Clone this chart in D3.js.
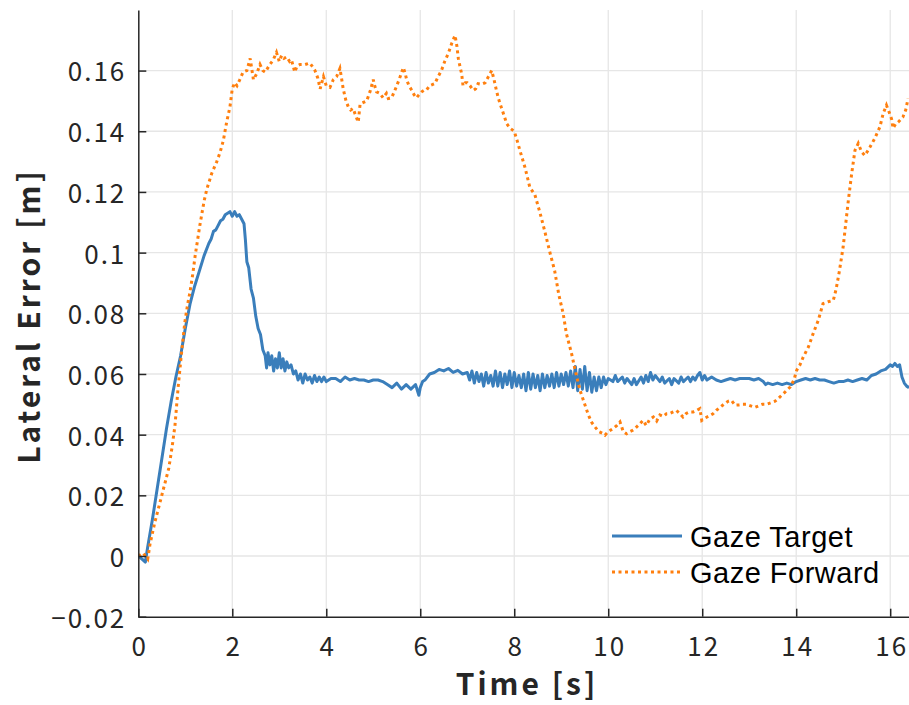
<!DOCTYPE html>
<html>
<head>
<meta charset="utf-8">
<script src="https://cdn.jsdelivr.net/npm/d3@7"></script>
<style>
  body { margin: 0; background: #fff; }
  svg text { font-family: "Noto Sans CJK JP", "Noto Sans", sans-serif; fill: #262626; }
</style>
</head>
<body>
<svg id="chart" width="909" height="705"></svg>
<script>
// Gaze Target (t [s], lateral error [m])
var gazeTarget = [
  [0,0],[0.08,-0.001],[0.15,-0.002],[0.2,0.003],[0.3,0.012],[0.4,0.022],[0.5,0.032],[0.6,0.042],[0.7,0.051],[0.8,0.059],
  [0.9,0.066],[1.0,0.075],[1.1,0.083],[1.2,0.089],[1.3,0.094],[1.4,0.099],[1.5,0.103],[1.55,0.1045],[1.6,0.107],[1.65,0.1075],[1.7,0.109],[1.75,0.1105],[1.8,0.111],
  [1.85,0.1125],[1.9,0.113],[1.95,0.1135],[2.0,0.112],[2.05,0.1135],[2.1,0.112],[2.15,0.1125],[2.2,0.111],[2.25,0.1095],[2.28,0.104],[2.31,0.097],
  [2.35,0.095],[2.4,0.088],[2.45,0.085],[2.5,0.079],[2.55,0.075],[2.6,0.073],[2.65,0.068],[2.7,0.066],[2.73,0.062],[2.76,0.067],
  [2.8,0.063],[2.84,0.066],[2.88,0.061],[2.92,0.065],[2.96,0.062],[3.0,0.067],[3.04,0.062],[3.08,0.065],[3.12,0.061],[3.16,0.064],
  [3.2,0.062],[3.25,0.063],[3.3,0.060],[3.35,0.061],[3.4,0.058],[3.45,0.060],[3.5,0.057],[3.55,0.060],[3.6,0.058],[3.65,0.059],
  [3.7,0.057],[3.75,0.0595],[3.8,0.0575],[3.85,0.059],[3.9,0.0575],[3.95,0.059],[4.0,0.0575],[4.1,0.0585],[4.2,0.0585],[4.3,0.0575],[4.4,0.059],[4.5,0.058],[4.6,0.0585],
  [4.7,0.058],[4.8,0.058],[4.9,0.0575],[5.0,0.058],[5.1,0.058],[5.2,0.0575],[5.3,0.0565],[5.4,0.0555],[5.5,0.057],[5.6,0.055],
  [5.7,0.0565],[5.8,0.055],[5.9,0.0565],[5.97,0.053],[6.0,0.0555],[6.05,0.0575],[6.1,0.058],[6.2,0.060],[6.3,0.0605],[6.4,0.0615],
  [6.5,0.061],[6.6,0.0618],[6.7,0.0605],[6.8,0.0612],[6.9,0.060],[7.0,0.0605],[7.05,0.058],[7.1,0.061],[7.15,0.057],[7.2,0.0605],
  [7.25,0.0575],[7.3,0.060],[7.35,0.056],[7.4,0.0605],[7.45,0.057],[7.5,0.0595],[7.55,0.056],[7.6,0.061],[7.65,0.056],[7.7,0.0605],
  [7.75,0.0555],[7.8,0.060],[7.85,0.0565],[7.9,0.061],[7.95,0.0555],[8.0,0.0605],[8.05,0.056],[8.1,0.0595],[8.15,0.0555],[8.2,0.060],
  [8.25,0.0545],[8.3,0.0605],[8.35,0.055],[8.4,0.060],[8.45,0.0555],[8.5,0.0595],[8.55,0.0545],[8.6,0.060],[8.65,0.0555],[8.7,0.0595],
  [8.75,0.056],[8.8,0.060],[8.85,0.0555],[8.9,0.0605],[8.95,0.056],[9.0,0.060],[9.05,0.0565],[9.1,0.0605],[9.15,0.056],[9.2,0.061],
  [9.25,0.0555],[9.3,0.0625],[9.35,0.0545],[9.4,0.0615],[9.45,0.055],[9.5,0.0625],[9.55,0.0545],[9.6,0.0605],[9.65,0.054],[9.7,0.059],
  [9.75,0.0545],[9.8,0.059],[9.85,0.0555],[9.9,0.059],[9.95,0.0565],[10.0,0.0585],[10.1,0.0575],[10.15,0.0595],[10.2,0.0575],[10.3,0.059],
  [10.35,0.057],[10.4,0.0585],[10.5,0.0565],[10.55,0.0585],[10.6,0.0565],[10.7,0.059],[10.75,0.057],[10.8,0.0595],[10.85,0.0575],[10.9,0.0605],
  [10.95,0.058],[11.0,0.0595],[11.1,0.0575],[11.15,0.059],[11.2,0.057],[11.3,0.0585],[11.35,0.0565],[11.4,0.0585],[11.5,0.057],[11.55,0.059],
  [11.6,0.0575],[11.7,0.059],[11.75,0.0575],[11.8,0.059],[11.85,0.058],[11.9,0.0595],[11.95,0.0605],[12.0,0.058],[12.05,0.0595],[12.1,0.058],
  [12.2,0.059],[12.3,0.058],[12.4,0.0575],[12.5,0.058],[12.6,0.0585],[12.7,0.058],[12.8,0.0585],[12.9,0.0585],[13.0,0.0585],[13.1,0.058],
  [13.2,0.0585],[13.3,0.0575],[13.35,0.0565],[13.4,0.057],[13.5,0.0565],[13.6,0.057],[13.7,0.0565],[13.8,0.057],[13.9,0.0565],[14.0,0.0575],
  [14.1,0.058],[14.2,0.0585],[14.3,0.058],[14.4,0.0585],[14.5,0.058],[14.6,0.058],[14.7,0.0575],[14.8,0.057],[14.9,0.0575],[15.0,0.0575],
  [15.1,0.058],[15.2,0.0575],[15.3,0.058],[15.4,0.0585],[15.5,0.058],[15.6,0.0595],[15.7,0.060],[15.8,0.061],[15.9,0.0615],[16.0,0.063],
  [16.05,0.0625],[16.1,0.0635],[16.15,0.0625],[16.2,0.063],[16.25,0.059],[16.3,0.057],[16.35,0.056],[16.4,0.0555]
];

// Gaze Forward (t [s], lateral error [m])
var gazeForward = [
  [0,0],[0.1,0.001],[0.2,-0.001],[0.25,0.004],[0.35,0.011],[0.45,0.017],[0.55,0.023],[0.65,0.029],[0.72,0.036],[0.78,0.043],
  [0.85,0.056],[0.92,0.067],[0.99,0.077],[1.05,0.083],[1.1,0.087],[1.16,0.093],[1.21,0.099],[1.31,0.109],[1.4,0.117],[1.46,0.121],
  [1.56,0.126],[1.67,0.130],[1.74,0.133],[1.81,0.137],[1.88,0.143],[1.95,0.148],[2.0,0.154],[2.05,0.156],[2.1,0.155],[2.16,0.157],
  [2.23,0.1595],[2.31,0.160],[2.38,0.164],[2.45,0.157],[2.52,0.159],[2.59,0.162],[2.65,0.160],[2.7,0.1595],[2.8,0.162],[2.87,0.1635],
  [2.94,0.166],[3.0,0.163],[3.05,0.165],[3.1,0.164],[3.16,0.1645],[3.22,0.163],[3.26,0.1635],[3.33,0.1595],[3.38,0.1615],[3.44,0.162],
  [3.55,0.162],[3.65,0.1625],[3.72,0.161],[3.76,0.160],[3.82,0.1575],[3.87,0.154],[3.94,0.158],[4.0,0.155],[4.08,0.1545],[4.15,0.157],
  [4.22,0.158],[4.29,0.1607],[4.33,0.157],[4.36,0.154],[4.42,0.150],[4.47,0.148],[4.52,0.147],[4.57,0.1475],[4.63,0.145],[4.68,0.143],
  [4.72,0.149],[4.79,0.1495],[4.86,0.150],[4.93,0.153],[5.0,0.157],[5.03,0.155],[5.07,0.153],[5.14,0.1525],[5.21,0.151],[5.28,0.1525],
  [5.32,0.1508],[5.39,0.151],[5.46,0.1535],[5.55,0.157],[5.64,0.161],[5.68,0.159],[5.71,0.157],[5.76,0.155],[5.82,0.1535],[5.87,0.152],
  [5.92,0.151],[5.97,0.152],[6.03,0.153],[6.08,0.1535],[6.13,0.1535],[6.2,0.155],[6.31,0.1557],[6.38,0.158],[6.45,0.160],[6.52,0.163],
  [6.6,0.1658],[6.67,0.169],[6.74,0.1716],[6.78,0.168],[6.81,0.164],[6.85,0.161],[6.88,0.159],[6.91,0.155],[6.96,0.156],[7.0,0.156],
  [7.06,0.155],[7.13,0.1535],[7.18,0.154],[7.23,0.1557],[7.3,0.1555],[7.38,0.156],[7.45,0.158],[7.52,0.160],[7.57,0.157],[7.62,0.1535],
  [7.66,0.151],[7.7,0.149],[7.77,0.1458],[7.84,0.1425],[7.91,0.141],[8.0,0.140],[8.06,0.137],[8.12,0.1337],[8.23,0.128],[8.33,0.1216],
  [8.44,0.119],[8.55,0.113],[8.65,0.107],[8.76,0.100],[8.86,0.094],[8.95,0.086],[9.04,0.080],[9.11,0.0733],[9.22,0.0667],[9.3,0.061],
  [9.4,0.0546],[9.5,0.050],[9.58,0.0464],[9.65,0.044],[9.72,0.0425],[9.8,0.041],[9.87,0.0405],[9.93,0.0398],[10.0,0.041],[10.1,0.042],
  [10.18,0.043],[10.25,0.0442],[10.32,0.041],[10.39,0.0403],[10.46,0.041],[10.53,0.0415],[10.6,0.0425],[10.67,0.0435],[10.74,0.0447],[10.81,0.043],
  [10.88,0.045],[10.96,0.0458],[11.03,0.0445],[11.1,0.0465],[11.17,0.046],[11.24,0.0469],[11.31,0.047],[11.38,0.0475],[11.45,0.048],[11.52,0.047],
  [11.59,0.0458],[11.66,0.047],[11.73,0.0475],[11.81,0.0475],[11.88,0.048],[11.95,0.0486],[11.99,0.0447],[12.06,0.0455],[12.13,0.046],[12.23,0.0469],
  [12.3,0.048],[12.38,0.049],[12.46,0.050],[12.55,0.051],[12.62,0.0513],[12.7,0.0497],[12.78,0.0498],[12.86,0.050],[12.94,0.050],[13.03,0.0495],
  [13.12,0.049],[13.2,0.0495],[13.28,0.050],[13.37,0.050],[13.46,0.0505],[13.55,0.051],[13.65,0.0524],[13.76,0.054],[13.87,0.0557],[13.95,0.058],
  [14.01,0.0612],[14.08,0.063],[14.15,0.0656],[14.26,0.0689],[14.36,0.0733],[14.47,0.0777],[14.57,0.0832],[14.68,0.0838],[14.79,0.0843],[14.85,0.088],
  [14.92,0.094],[15.0,0.102],[15.05,0.109],[15.11,0.1173],[15.18,0.126],[15.25,0.1337],[15.32,0.136],[15.39,0.1332],[15.46,0.132],[15.52,0.1335],
  [15.57,0.1348],[15.67,0.1376],[15.78,0.1414],[15.85,0.1458],[15.92,0.1486],[15.99,0.1458],[16.03,0.144],[16.06,0.141],[16.12,0.1425],[16.17,0.143],
  [16.27,0.1447],[16.33,0.147],[16.38,0.1508]
];

var xTicks = [0, 2, 4, 6, 8, 10, 12, 14, 16];
var yTicks = [-0.02, 0, 0.02, 0.04, 0.06, 0.08, 0.1, 0.12, 0.14, 0.16];
var yTickLabels = ["\u22120.02", "0", "0.02", "0.04", "0.06", "0.08", "0.1", "0.12", "0.14", "0.16"];
var seriesNames = ["Gaze Target", "Gaze Forward"];

var svg = d3.select("#chart");
var x = d3.scaleLinear().domain([0, 16.4]).range([138.3, 909]);
var y = d3.scaleLinear().domain([-0.02, 0.18]).range([616.7, 9.9]);

var axisColor = "#262626";
var gridColor = "#e6e6e6";

// grille
svg.append("g").selectAll("line").data(xTicks.slice(1)).enter().append("line")
  .attr("x1", d => x(d)).attr("x2", d => x(d))
  .attr("y1", y.range()[0]).attr("y2", y.range()[1])
  .attr("stroke", gridColor).attr("stroke-width", 1.3);
svg.append("g").selectAll("line").data(yTicks.slice(1)).enter().append("line")
  .attr("x1", x.range()[0]).attr("x2", x.range()[1])
  .attr("y1", d => y(d)).attr("y2", d => y(d))
  .attr("stroke", gridColor).attr("stroke-width", 1.3);

// courbes
var line = d3.line().x(d => x(d[0])).y(d => y(d[1]));
svg.append("defs").append("clipPath").attr("id", "clip").append("rect")
  .attr("x", x.range()[0]).attr("y", y.range()[1])
  .attr("width", x.range()[1] - x.range()[0]).attr("height", y.range()[0] - y.range()[1]);

svg.append("path").datum(gazeTarget)
  .attr("clip-path", "url(#clip)")
  .attr("d", line).attr("fill", "none")
  .attr("stroke", "#3a7ebb").attr("stroke-width", 3).attr("stroke-linejoin", "round");

svg.append("path").datum(gazeForward)
  .attr("clip-path", "url(#clip)")
  .attr("d", line).attr("fill", "none")
  .attr("stroke", "#ff7f0e").attr("stroke-width", 3).attr("stroke-dasharray", "3,3.5");

// axes
var xAxis = d3.axisBottom(x).tickValues(xTicks).tickSizeInner(-8).tickSizeOuter(0).tickPadding(20);
var yAxis = d3.axisLeft(y).tickValues(yTicks).tickSizeInner(-8).tickSizeOuter(0).tickPadding(12)
  .tickFormat((d, i) => yTickLabels[i]);

var gx = svg.append("g").attr("transform", "translate(0," + y.range()[0] + ")").call(xAxis);
var gy = svg.append("g").attr("transform", "translate(" + x.range()[0] + ",0)").call(yAxis);
[gx, gy].forEach(function(g) {
  g.select(".domain").attr("stroke", axisColor).attr("stroke-width", 1.5);
  g.selectAll(".tick line").attr("stroke", axisColor).attr("stroke-width", 1.5);
  g.selectAll(".tick text").attr("fill", axisColor)
    .style("font-family", "'Noto Sans CJK JP', sans-serif").style("font-size", "26px")
    .style("letter-spacing", "2px");
});
gx.selectAll(".tick text").attr("dy", "0.75em").attr("dx", "1px");
gy.selectAll(".tick text").attr("dy", "0.4em");

// titres des axes
svg.append("text").attr("x", 527).attr("y", 695).attr("text-anchor", "middle")
  .style("font-size", "30px").style("font-weight", "bold").style("letter-spacing", "3px")
  .text("Time [s]");
svg.append("text").attr("transform", "translate(40,316) rotate(-90)").attr("text-anchor", "middle")
  .style("font-size", "30px").style("font-weight", "bold").style("letter-spacing", "3px")
  .text("Lateral Error [m]");

// légende
var legend = svg.append("g");
legend.append("line").attr("x1", 612).attr("x2", 682).attr("y1", 536).attr("y2", 536)
  .attr("stroke", "#3a7ebb").attr("stroke-width", 3);
legend.append("line").attr("x1", 612).attr("x2", 682).attr("y1", 572).attr("y2", 572)
  .attr("stroke", "#ff7f0e").attr("stroke-width", 3).attr("stroke-dasharray", "3,3.5");
legend.selectAll("text.lg").data(seriesNames).enter().append("text")
  .attr("x", 690).attr("y", (d, i) => 547 + i * 36)
  .style("font-family", "'Liberation Sans', Arial, sans-serif")
  .style("font-size", "29px").style("letter-spacing", "0.5px").style("fill", "#000").text(d => d);
</script>
</body>
</html>
